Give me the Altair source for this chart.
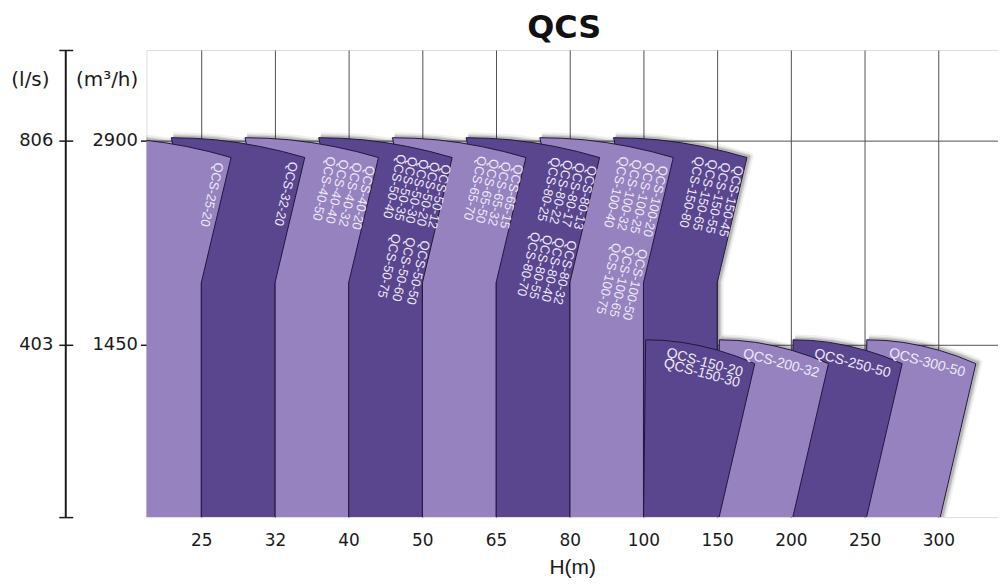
import json
import altair as alt
import pandas as pd

# ---------------- data ----------------
heads = ["25", "32", "40", "50", "65", "80", "100", "150", "200", "250", "300"]   # H(m) columns
upper_heads = ["25", "32", "40", "50", "65", "80", "100", "150"]                  # band up to 2900 m3/h
lower_heads = ["150", "200", "250", "300"]                                         # band up to 1450 m3/h
q_upper = 2900
q_lower = 1450
flow_ticks = [1450, 2900]      # m3/h
ls_ticks = [403, 806]          # l/s
M3H_PER_LS = 2900 / 806

# model labels per block (head, models)
label_heads = ["25", "32", "40", "50", "50", "65", "80", "80", "100", "100", "150",
               "150", "200", "250", "300"]
label_models = [
    ["QCS-25-20"],
    ["QCS-32-20"],
    ["QCS-40-20", "QCS-40-32", "QCS-40-40", "QCS-40-50"],
    ["QCS-50-12", "QCS-50-20", "QCS-50-30", "QCS-50-35", "QCS-50-40"],
    ["QCS-50-50", "QCS-50-60", "QCS-50-75"],
    ["QCS-65-15", "QCS-65-32", "QCS-65-50", "QCS-65-70"],
    ["QCS-80-13", "QCS-80-17", "QCS-80-22", "QCS-80-25"],
    ["QCS-80-32", "QCS-80-40", "QCS-80-55", "QCS-80-70"],
    ["QCS-100-20", "QCS-100-25", "QCS-100-32", "QCS-100-40"],
    ["QCS-100-50", "QCS-100-65", "QCS-100-75"],
    ["QCS-150-45", "QCS-150-55", "QCS-150-65", "QCS-150-80"],
    ["QCS-150-20", "QCS-150-30"],
    ["QCS-200-32"],
    ["QCS-250-50"],
    ["QCS-300-50"],
]

# ---------------- style / geometry (not data) ----------------
LIGHT = "#9582BF"
DARK = "#5A458F"
EDGE = "#20173A"
Y_DOM = [226, 3544]
X_DOM = [-0.743, 10.81]
# band outline template (offsets from column index / band top)
UP_TOP_DX = [-1.405, -1.103, -0.802, -0.5, -0.198, 0.103, 0.405]
UP_TOP_DV = [21, 17, 6, -14, -42, -77, -120]
UP_KINK_DV = -1011
LO_TOP_DX = [-0.97, -0.723, -0.477, -0.23, 0.017, 0.263, 0.51]
LO_TOP_DV = [35, 31, 17, -7, -40, -82, -134]
BOTTOM = Y_DOM[0] - 60
# label placement: (u offset from column, value) and style
label_pos = [(0.320, 2735), (0.325, 2740), (0.375, 2712), (0.405, 2720), (0.120, 2180),
             (0.385, 2720), (0.385, 2712), (0.110, 2180), (0.350, 2712), (0.070, 2120),
             (0.375, 2712), (-0.658, 1442), (-0.622, 1437), (-0.654, 1437), (-0.641, 1442)]
label_lh = [14, 14, 13.5, 11.5, 15, 12.5, 12.5, 12.5, 13.5, 13.5, 13.5, 11, 11, 11, 11]


def upper_poly(i):
    pts = [(i + dx, q_upper + dv) for dx, dv in zip(UP_TOP_DX, UP_TOP_DV)]
    pts += [(i, q_upper + UP_KINK_DV), (i, BOTTOM), (i - 1, BOTTOM), (i - 1, q_upper + UP_KINK_DV)]
    pts.append(pts[0])
    return pts


def lower_poly(i):
    pts = [(i + dx, q_lower + dv) for dx, dv in zip(LO_TOP_DX, LO_TOP_DV)]
    pts += [(i, BOTTOM), (i - 1, BOTTOM)]
    pts.append(pts[0])
    return pts


shapes = []  # (id, index, points) in drawing order (back to front)
for h in reversed(lower_heads[1:]):
    i = heads.index(h)
    shapes.append(("L" + h, i, lower_poly(i)))
shapes.append(("U150", 7, upper_poly(7)))
shapes.append(("L150", 7, lower_poly(7)))
for h in reversed(upper_heads[:-1]):
    i = heads.index(h)
    shapes.append(("U" + h, i, upper_poly(i)))

rows = []
for sid, i, pts in shapes:
    for k, (u, v) in enumerate(pts):
        rows.append({"sid": sid, "k": k, "u": u, "v": v})
poly_df = pd.DataFrame(rows)

label_expr = json.dumps(heads) + "[datum.value]"

X = alt.X("u:Q", scale=alt.Scale(domain=X_DOM, nice=False, zero=False),
          axis=alt.Axis(values=list(range(len(heads))), labelExpr=label_expr, grid=True,
                        gridColor="#505050", gridWidth=1, ticks=False, domain=False,
                        labelFont="DejaVu Sans", labelFontSize=17, labelColor="#1a1a1a",
                        labelPadding=16, labelFlush=False, title="H(m)",
                        titleFont="Liberation Sans", titleFontSize=21, titleFontWeight="normal",
                        titleColor="#1a1a1a", titlePadding=8))
Y = alt.Y("v:Q", scale=alt.Scale(domain=Y_DOM, nice=False, zero=False),
          axis=alt.Axis(values=flow_ticks, format="d", grid=True, gridColor="#505050",
                        gridWidth=1, tickSize=6, tickColor="#1a1a1a", tickWidth=1.5,
                        domain=False, labelFont="DejaVu Sans", labelFontSize=18,
                        labelColor="#1a1a1a", labelPadding=3, title="(m³/h)", titleAngle=0,
                        titleX=-40, titleY=30, titleAlign="center", titleBaseline="middle",
                        titleFont="DejaVu Sans", titleFontSize=20, titleFontWeight="normal",
                        titleColor="#1a1a1a"))

layers = []
# soft shadow
for w, op in [(9, 0.06), (5, 0.10), (2.5, 0.15)]:
    layers.append(alt.Chart(poly_df).mark_line(stroke="#000", strokeWidth=w, strokeOpacity=op,
                                               strokeJoin="round", clip=True, xOffset=2, yOffset=-1)
                  .encode(x=X, y=Y, order="k:Q", detail="sid:N"))
for sid, i, pts in shapes:
    col = DARK if i % 2 == 1 else LIGHT
    layers.append(alt.Chart(poly_df).transform_filter(alt.datum.sid == sid)
                  .mark_line(fill=col, stroke=EDGE, strokeWidth=1, strokeJoin="round", clip=True)
                  .encode(x=X, y=Y, order="k:Q"))

lab_rows = []
for h, models, (du, v), lh in zip(label_heads, label_models, label_pos, label_lh):
    lab_rows.append({"u": heads.index(h) + du, "v": v, "txt": "\n".join(models), "lh": lh,
                     "band": "up" if v > 2000 else "low"})
lab_df = pd.DataFrame(lab_rows)
for (lh, band), _ in lab_df.groupby(["lh", "band"]):
    upper = band == "up"
    layers.append(alt.Chart(lab_df).transform_filter(
        (alt.datum.lh == lh) & (alt.datum.band == band))
        .mark_text(angle=103 if upper else 15, align="left", baseline="top",
                   font="Liberation Sans", fontSize=13 if upper else 14, lineHeight=lh,
                   lineBreak="\n", color="#EEEAF7")
        .encode(x=X, y=Y, text="txt:N"))

main = alt.layer(*layers)

ls_df = pd.DataFrame({"lo": [Y_DOM[0] / M3H_PER_LS], "hi": [Y_DOM[1] / M3H_PER_LS]})
ls_dom = [Y_DOM[0] / M3H_PER_LS, Y_DOM[1] / M3H_PER_LS]
ls_layer = alt.Chart(ls_df).mark_rule(color="#1a1a1a", strokeWidth=2).encode(
    x=alt.value(-81),
    y=alt.Y("lo:Q", scale=alt.Scale(domain=ls_dom, nice=False, zero=False),
            axis=alt.Axis(orient="left", offset=74, values=[ls_dom[0]] + ls_ticks + [ls_dom[1]],
                          labelExpr="indexof([403, 806], datum.value) >= 0 ? datum.label : ''",
                          format="d", tickSize=14, tickWidth=1.5, tickColor="#1a1a1a",
                          domain=False, grid=False, labelFont="DejaVu Sans", labelFontSize=18,
                          labelColor="#1a1a1a", labelPadding=6, title="(l/s)", titleAngle=0,
                          titleX=-43, titleY=30, titleAlign="center", titleBaseline="middle",
                          titleFont="DejaVu Sans", titleFontSize=20, titleFontWeight="normal",
                          titleColor="#1a1a1a")),
    y2="hi:Q")

chart = alt.layer(main, ls_layer).resolve_scale(y="independent").properties(
    width=855, height=469,
    autosize=alt.AutoSizeParams(type="none"),
    padding={"left": 139, "top": 41, "right": 0, "bottom": 62},
    title=alt.TitleParams("QCS", font="DejaVu Sans", fontSize=32, fontWeight="bold",
                          color="#111111", offset=14, baseline="alphabetic", dx=-8, dy=35,
                          anchor="middle"),
).configure_view(fill="#F4F1F8", stroke="#333333", strokeWidth=1.5).configure(background="white")

chart.save("out.html", embed_options={"renderer": "svg", "actions": False})
